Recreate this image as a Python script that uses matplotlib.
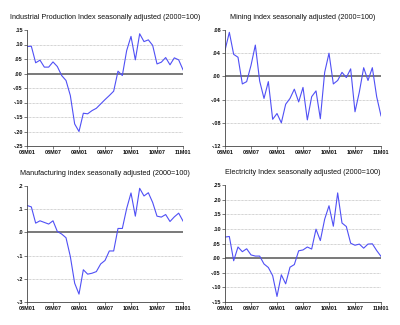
import matplotlib
matplotlib.use("Agg")
import matplotlib.pyplot as plt
from matplotlib.ticker import FuncFormatter

plt.rcParams['font.family'] = ['Liberation Sans Narrow', 'Liberation Sans', 'DejaVu Sans']

# monthly, 08M01 .. 11M01
months = list(range(37))
tick_labels = ["08M01", "08M07", "09M01", "09M07", "10M01", "10M07", "11M01"]

industrial = [0.093, 0.094, 0.037, 0.046, 0.022, 0.022, 0.040, 0.024, -0.007, -0.024,
              -0.076, -0.174, -0.200, -0.137, -0.139, -0.128, -0.120, -0.105, -0.090, -0.076,
              -0.061, 0.008, -0.007, 0.079, 0.128, 0.047, 0.137, 0.110, 0.116, 0.097,
              0.033, 0.039, 0.055, 0.030, 0.054, 0.047, 0.013]
mining = [0.045, 0.076, 0.038, 0.033, -0.013, -0.009, 0.019, 0.054, -0.008, -0.038,
          -0.009, -0.074, -0.064, -0.080, -0.048, -0.038, -0.022, -0.044, -0.019, -0.075,
          -0.035, -0.025, -0.073, 0.007, 0.040, -0.013, -0.007, 0.007, -0.002, 0.013,
          -0.061, -0.027, 0.015, -0.007, 0.015, -0.035, -0.068]
manufacturing = [0.116, 0.110, 0.040, 0.050, 0.043, 0.036, 0.050, 0.004, -0.007, -0.023,
                 -0.104, -0.219, -0.266, -0.161, -0.180, -0.176, -0.169, -0.136, -0.121, -0.080,
                 -0.080, 0.017, 0.017, 0.103, 0.170, 0.070, 0.190, 0.157, 0.171, 0.129,
                 0.070, 0.066, 0.077, 0.047, 0.067, 0.083, 0.049]
electricity = [0.072, 0.074, -0.009, 0.038, 0.022, 0.032, 0.011, 0.007, 0.007, -0.020,
               -0.032, -0.060, -0.131, -0.057, -0.088, -0.031, -0.022, 0.025, 0.028, 0.038,
               0.031, 0.099, 0.060, 0.133, 0.179, 0.109, 0.223, 0.120, 0.108, 0.051,
               0.044, 0.048, 0.034, 0.048, 0.049, 0.026, 0.006]

panels = [
    ("Industrial Production Index seasonally adjusted (2000=100)", industrial,
     [-0.25, -0.20, -0.15, -0.10, -0.05, 0.00, 0.05, 0.10, 0.15], 2),
    ("Mining index seasonally adjusted (2000=100)", mining,
     [-0.12, -0.08, -0.04, 0.00, 0.04, 0.08], 2),
    ("Manufacturing index seasonally adjusted (2000=100)", manufacturing,
     [-0.3, -0.2, -0.1, 0.0, 0.1, 0.2], 1),
    ("Electricity Index seasonally adjusted (2000=100)", electricity,
     [-0.15, -0.10, -0.05, 0.00, 0.05, 0.10, 0.15, 0.20, 0.25], 2),
]

# axes rectangles in pixels (left, top, right, bottom) of a 400x325 figure
boxes = [(27, 30, 183, 146), (225, 30, 381, 146),
         (27, 186, 183, 302), (225, 185, 381, 302)]

W, H = 400, 325
fig = plt.figure(figsize=(4, 3.25), dpi=100)


def fmt_factory(dec):
    def f(v, pos):
        s = f"{v:.{dec}f}"
        if s.startswith("-0"):
            s = "-" + s[2:]
        elif s.startswith("0"):
            s = s[1:]
        if s == "-." + "0" * dec:
            s = s[1:]
        return s
    return FuncFormatter(f)


for (title, vals, yt, dec), (l, t, r, b) in zip(panels, boxes):
    ax = fig.add_axes([l / W, 1 - b / H, (r - l) / W, (b - t) / H])
    for y in yt[1:-1]:
        if abs(y) < 1e-9:
            ax.axhline(0, color='#555555', lw=1.1, zorder=1)
        else:
            ax.axhline(y, color='#aaaaaa', lw=0.5, ls=(0, (1, 1)), zorder=1)
    ax.plot(months, vals, color='#5050f5', lw=0.8, zorder=2)
    ax.set_xlim(0, 36)
    ax.set_ylim(yt[0], yt[-1])
    ax.set_yticks(yt)
    ax.yaxis.set_major_formatter(fmt_factory(dec))
    ax.set_xticks(range(0, 37, 6))
    ax.set_xticklabels(tick_labels)
    ax.spines['top'].set_visible(False)
    ax.spines['right'].set_visible(False)
    for s in ('left', 'bottom'):
        ax.spines[s].set_color('#444444')
        ax.spines[s].set_linewidth(0.6)
    ax.tick_params(axis='both', labelsize=4.0, length=2, width=0.5,
                   color='#444444', pad=1, labelcolor='#111111')
    for lab in ax.get_xticklabels() + ax.get_yticklabels():
        lab.set_fontweight('bold')
    ax.set_title(title, fontsize=5.2, pad=8, color='#111111')

fig.savefig("out.png", dpi=100)
